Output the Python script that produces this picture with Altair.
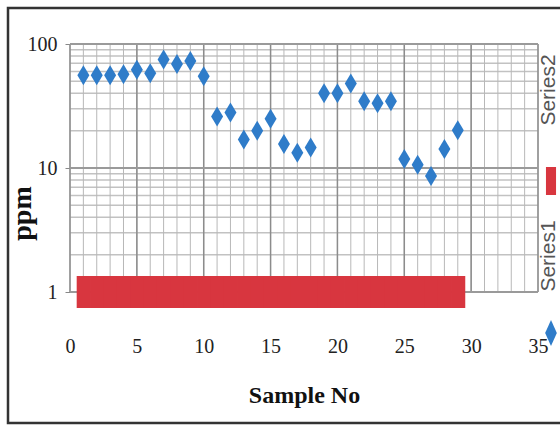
import altair as alt
import pandas as pd

# Sample numbers and measured concentrations (ppm)
samples = list(range(1, 30))
series1 = [56, 56, 56, 57, 62, 58, 75, 69, 73, 55,
           26, 28, 17, 20, 25, 15.6, 13.3, 14.6, 40, 40,
           48, 34.6, 33.3, 34.6, 11.8, 10.6, 8.6, 14.2, 20.2]
series2 = [1] * 29

x_ticks = [0, 5, 10, 15, 20, 25, 30, 35]
y_ticks = [1, 10, 100]
x_minor = list(range(0, 36))
y_minor = [2, 3, 4, 5, 6, 7, 8, 9, 20, 30, 40, 50, 60, 70, 80, 90]

BLUE = "#2f7cc9"
RED = "#d8363f"
SERIF = "Liberation Serif"

W, H = 468, 248

df1 = pd.DataFrame({"sample": samples, "ppm": series1})
df2 = pd.DataFrame({"sample": samples, "ppm": series2})

xscale = alt.Scale(domain=[0, 35], nice=False, zero=False)
yscale = alt.Scale(type="log", domain=[1, 100], nice=False)

x_axis = alt.Axis(values=x_ticks, grid=False, domain=False, ticks=False,
                  labelFont=SERIF, labelFontSize=20, labelColor="#222",
                  labelPadding=44, labelFlush=False,
                  title="Sample No", titleFont=SERIF, titleFontSize=24,
                  titleFontWeight="bold", titleColor="#111",
                  titleY=103, titleBaseline="middle")
y_axis = alt.Axis(values=y_ticks, grid=False, domain=False,
                  tickColor="#888", tickSize=5, format="~s",
                  labelFont=SERIF, labelFontSize=20, labelColor="#222",
                  labelPadding=8,
                  title="ppm", titleFont=SERIF, titleFontSize=28,
                  titleFontWeight="bold", titleColor="#111",
                  titleX=-48, titleY=169, titleAngle=270,
                  titleAlign="center", titleBaseline="middle")

diamond = "M0,-1L0.6,0L0,1L-0.6,0Z"

# gridlines
vx_minor = alt.Chart(pd.DataFrame({"v": x_minor})).mark_rule(
    color="#b8b8b8", strokeWidth=1
).encode(x=alt.X("v:Q", scale=xscale, axis=x_axis))
vx_major = alt.Chart(pd.DataFrame({"v": x_ticks})).mark_rule(
    color="#8c8c8c", strokeWidth=1.5
).encode(x=alt.X("v:Q", scale=xscale, axis=x_axis))
hy_minor = alt.Chart(pd.DataFrame({"v": y_minor})).mark_rule(
    color="#c2c2c2", strokeWidth=1.5
).encode(y=alt.Y("v:Q", scale=yscale, axis=y_axis))
hy_major = alt.Chart(pd.DataFrame({"v": y_ticks})).mark_rule(
    color="#9a9a9a", strokeWidth=2
).encode(y=alt.Y("v:Q", scale=yscale, axis=y_axis))

# Series2: a thick band of square markers at 1 ppm (slightly overlapping)
band = alt.Chart(df2).transform_calculate(
    x0="datum.sample - 0.5", x1="datum.sample + 0.56"
).mark_rule(color=RED, strokeWidth=32, strokeCap="butt", clip=False).encode(
    x=alt.X("x0:Q", scale=xscale, axis=x_axis),
    x2="x1:Q",
    y=alt.Y("ppm:Q", scale=yscale, axis=y_axis),
)

# Series1: diamonds
points = alt.Chart(df1).mark_point(
    shape=diamond, filled=True, size=400, color=BLUE, opacity=1
).encode(x=alt.X("sample:Q", scale=xscale, axis=x_axis),
         y=alt.Y("ppm:Q", scale=yscale, axis=y_axis))

# Rotated legend at the right edge
legend_text = alt.Chart(pd.DataFrame({"name": ["Series1", "Series2"],
                                      "yc": [212, 46]})).mark_text(
    angle=270, font="Liberation Sans", fontSize=21, color="#555",
    align="center", baseline="alphabetic"
).encode(x=alt.value(485), y=alt.Y("yc:Q", scale=None), text="name:N")
legend_diamond = alt.Chart(pd.DataFrame({"k": [0]})).mark_point(
    shape="M0,-1L0.45,0L0,1L-0.45,0Z", filled=True, size=676, color=BLUE, opacity=1
).encode(x=alt.value(481), y=alt.value(289))
legend_square = alt.Chart(pd.DataFrame({"k": [0]})).mark_point(
    shape="M-0.36,-1L0.36,-1L0.36,1L-0.36,1Z", filled=True, size=784, color=RED, opacity=1
).encode(x=alt.value(481), y=alt.value(137))

# outer frame
frame = alt.Chart(pd.DataFrame({"k": [0]})).mark_rect(
    fill=None, stroke="#333", strokeWidth=2.5, clip=False
).encode(x=alt.value(-62), x2=alt.value(520), y=alt.value(-36), y2=alt.value(379))

chart = alt.layer(
    hy_minor, vx_minor, vx_major, hy_major, band, points,
    legend_text, legend_diamond, legend_square, frame
).properties(
    width=W, height=H,
    autosize=alt.AutoSizeParams(type="none"),
    padding={"left": 70, "top": 44, "right": 22, "bottom": 134},
    background="white",
).configure_view(stroke=None)

chart.save("out.html", embed_options={"renderer": "svg", "actions": False})
